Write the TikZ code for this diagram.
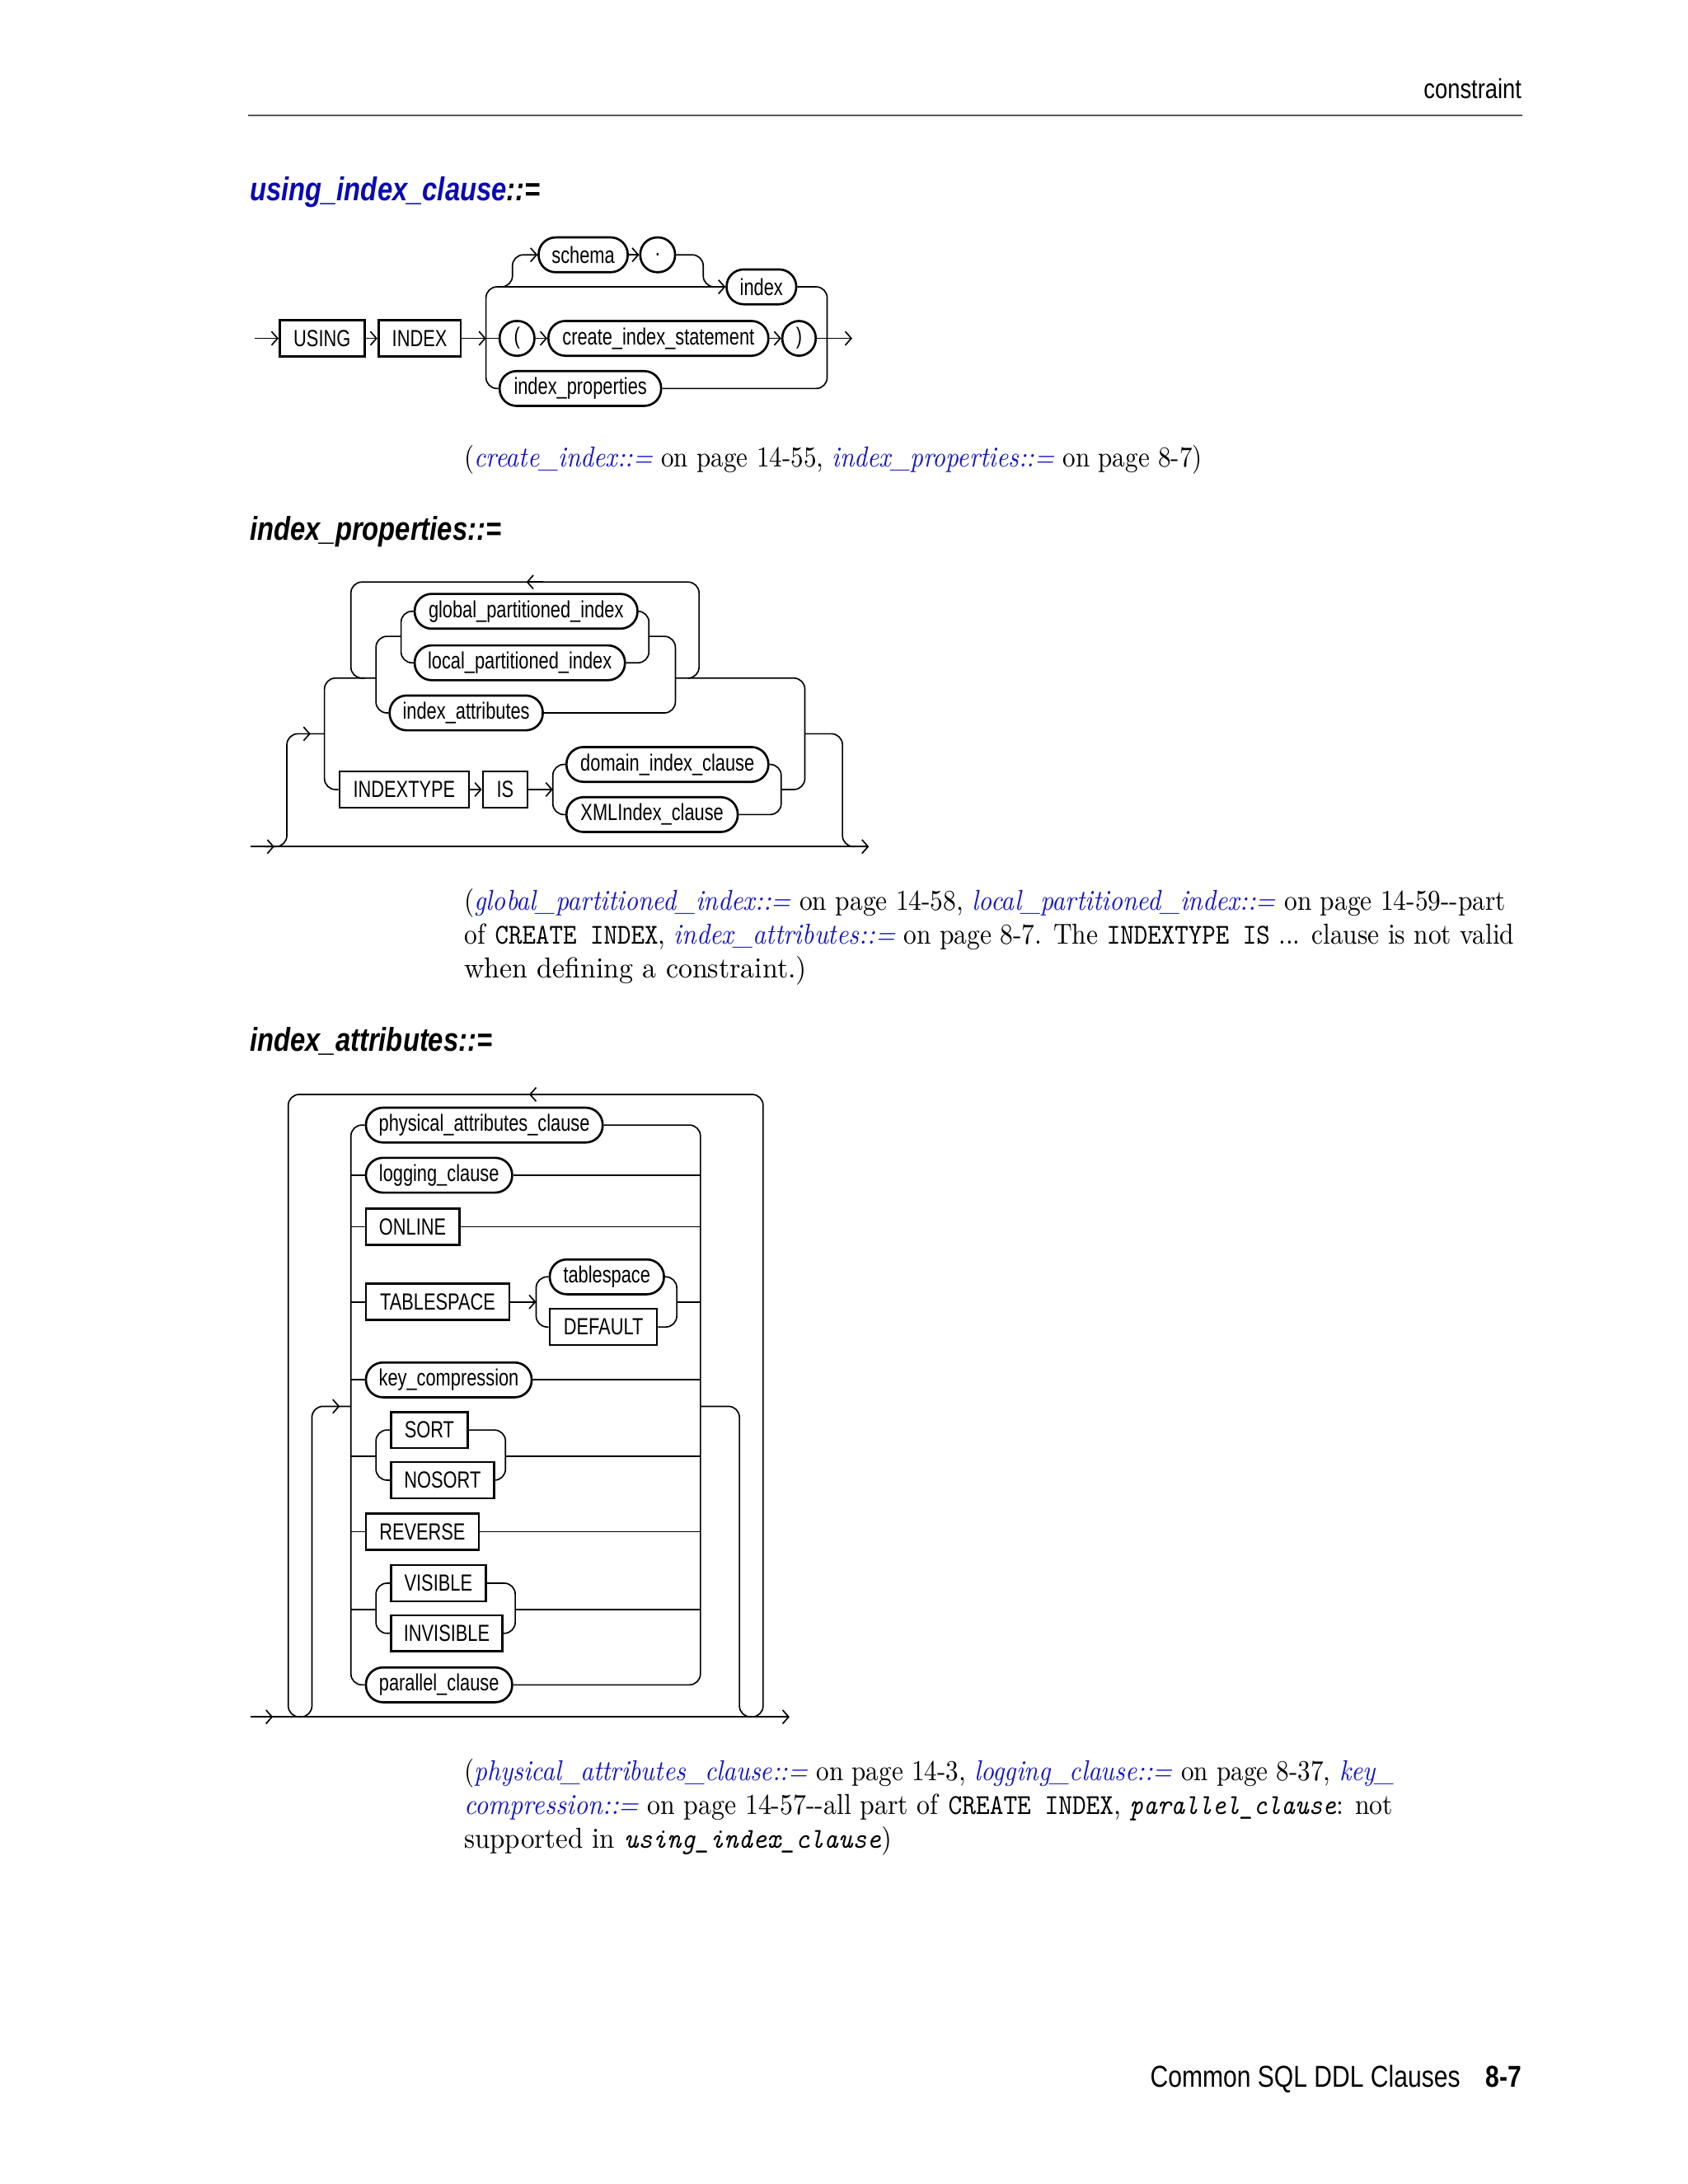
\documentclass[tikz,border=0pt]{standalone}
\usepackage{fontspec}
\usepackage{graphicx}
\usepackage{xcolor}
\usetikzlibrary{arrows.meta, positioning}

\newfontfamily\hv{Liberation Sans}
\newlength\pxu
\setlength\pxu{0.178135mm}
\definecolor{linkblue}{RGB}{20,20,200}
\definecolor{titleblue}{RGB}{10,10,180}
\newcommand\nar[1]{\scalebox{0.77}[1]{#1}}
\newcommand\hnar[1]{\scalebox{0.82}[1]{#1}}
\newcommand\lk[1]{{\color{linkblue}\itshape #1}}
\newcommand\fitline[2]{\resizebox{#1\pxu}{\height}{#2}}

\tikzset{
  rail/.style={line width=0.5pt, rounded corners=4pt},
  kw/.style={draw, line width=0.8pt, minimum height=26\pxu, inner sep=0pt,
    anchor=west, font=\hv\fontsize{8.5}{10}\selectfont},
  ob/.style={kw, rounded corners=6.2pt, minimum height=25\pxu},
  ttl/.style={anchor=base west, inner sep=0pt, font=\hv\bfseries\itshape\fontsize{12}{14}\selectfont},
  body/.style={anchor=base west, inner sep=0pt, font=\fontsize{10.5}{12}\selectfont},
}

\begin{document}
\begin{tikzpicture}[x=\pxu, y=-\pxu, >={Straight Barb[length=2.2pt,width=5pt]}]
  \useasboundingbox (0,0) rectangle (1212,1568.5);
  \fill[white] (0,0) rectangle (1212,1568.5);

  % Page header and footer
  \node[anchor=base east, inner sep=0pt, font=\hv\fontsize{10}{12}\selectfont] (hdr) at (1093,71) {\hnar{constraint}};
  \draw[black!65, line width=0.6pt] (178,83) -- (1093,83);
  \node[anchor=base east, inner sep=0pt, font=\hv\bfseries\fontsize{11}{13}\selectfont] (pgno) at (1093,1499) {\hnar{8-7}};
  \node[anchor=base east, inner sep=0pt, font=\hv\fontsize{11}{13}\selectfont] (foot) at (1049,1499) {\hnar{Common SQL DDL Clauses}};

  % using_index_clause
  \node[ttl] (t1) at (179,144) {\hnar{\textcolor{titleblue}{using\_index\_clause}::=}};
  \node[kw, minimum width=61\pxu] (using) at (200,243) {\nar{USING}};
  \node[kw, minimum width=59\pxu] (kindex) at (271,243) {\nar{INDEX}};
  \node[ob, minimum width=64\pxu] (schema) at (386,183) {\nar{schema}};
  \node[ob, minimum width=25\pxu] (dot) at (459,183) {\nar{.}};
  \node[ob, minimum width=50\pxu] (idx) at (521,206) {\nar{index}};
  \node[ob, minimum width=25\pxu] (lpar) at (358,243) {\nar{(}};
  \node[ob, minimum width=158\pxu] (cis) at (393,243) {\nar{create\_index\_statement}};
  \node[ob, minimum width=24\pxu] (rpar) at (561,243) {\nar{)}};
  \node[ob, minimum width=116\pxu] (iprop) at (358,279) {\nar{index\_properties}};

  \draw[rail,->] (183,243) -- (using.west);
  \draw[rail,->] (using.east) -- (kindex.west);
  \draw[rail,->] (kindex.east) -- (349,243);
  \draw[rail] (349,243) -- (lpar.west);
  \draw[rail,->] (lpar.east) -- (cis.west);
  \draw[rail,->] (cis.east) -- (rpar.west);
  \draw[rail,->] (rpar.east) -- (612,243);
  \draw[rail,<-] (idx.west) -| (349,243) |- (iprop.west);
  \draw[rail] (idx.east) -| (594,243) |- (iprop.east);
  \draw[rail,->] (358,206) -| (368,183) -- (schema.west);
  \draw[rail,->] (schema.east) -- (dot.west);
  \draw[rail] (dot.east) -| (505,206) -- (513,206);

  \node[body] (n1) at (333,335) {\fitline{530}{(\lk{create\_index::=} on page 14-55, \lk{index\_properties::=} on page 8-7)}};

  % index_properties
  \node[ttl] (t2) at (179,388) {\hnar{index\_properties::=}};
  \node[ob, minimum width=160\pxu] (gpi) at (297,439) {\nar{global\_partitioned\_index}};
  \node[ob, minimum width=151\pxu] (lpi) at (297,476) {\nar{local\_partitioned\_index}};
  \node[ob, minimum width=110\pxu] (iattr) at (279,512) {\nar{index\_attributes}};
  \node[kw, minimum width=93\pxu] (itype) at (243,567) {\nar{INDEXTYPE}};
  \node[kw, minimum width=32\pxu] (is) at (346,567) {\nar{IS}};
  \node[ob, minimum width=145\pxu] (dic) at (406,549) {\nar{domain\_index\_clause}};
  \node[ob, minimum width=123\pxu] (xic) at (406,585) {\nar{XMLIndex\_clause}};

  \draw[rail,->] (180,608) -- (624,608);
  \draw[rail,->] (180,608) -- (197,608);
  \draw[rail] (190,608) -| (206,527) -- (233,527);
  \draw[rail,->] (214,527) -- (223,527);
  \draw[rail] (578,527) -| (605,608) -- (614,608);
  \draw[rail] (270,487) -| (233,527) |- (itype.west);
  \draw[rail] (485,487) -| (578,527) |- (561,567);
  \draw[rail] (262,487) -| (252,418) -| (502,487) -- (494,487);
  \draw[rail,->] (390,418) -- (378,418);
  \draw[rail] (gpi.west) -| (288,457) |- (lpi.west);
  \draw[rail] (gpi.east) -| (466,457) |- (lpi.east);
  \draw[rail] (288,457) -| (270,487) |- (iattr.west);
  \draw[rail] (466,457) -| (485,487) |- (iattr.east);
  \draw[rail,->] (itype.east) -- (is.west);
  \draw[rail,->] (is.east) -- (397,567);
  \draw[rail] (dic.west) -| (397,567) |- (xic.west);
  \draw[rail] (dic.east) -| (561,567) |- (xic.east);

  \node[body] (n2a) at (333,654) {\fitline{748}{(\lk{global\_partitioned\_index::=} on page 14-58, \lk{local\_partitioned\_index::=} on page 14-59-{}-part}};
  \node[body] (n2b) at (333,678) {\fitline{754}{of \texttt{CREATE INDEX}, \lk{index\_attributes::=} on page 8-7. The \texttt{INDEXTYPE IS} ... clause is not valid}};
  \node[body] (n2c) at (333,702) {\fitline{246}{when defining a constraint.)}};

  % index_attributes
  \node[ttl] (t3) at (179,755) {\hnar{index\_attributes::=}};
  \coordinate (rr) at (503,1010);
  \node[ob, minimum width=170\pxu] (pac) at (262,808) {\nar{physical\_attributes\_clause}};
  \node[ob, minimum width=105\pxu] (log) at (262,844) {\nar{logging\_clause}};
  \node[kw, minimum width=67\pxu] (online) at (262,881) {\nar{ONLINE}};
  \node[kw, minimum width=103\pxu] (ts) at (262,935) {\nar{TABLESPACE}};
  \node[ob, minimum width=82\pxu] (tsn) at (394,917) {\nar{tablespace}};
  \node[kw, minimum width=77\pxu] (def) at (394,953) {\nar{DEFAULT}};
  \node[ob, minimum width=119\pxu] (kc) at (262,991) {\nar{key\_compression}};
  \node[kw, minimum width=55\pxu] (sort) at (280,1027) {\nar{SORT}};
  \node[kw, minimum width=74\pxu] (nosort) at (280,1063) {\nar{NOSORT}};
  \node[kw, minimum width=81\pxu] (rev) at (262,1100) {\nar{REVERSE}};
  \node[kw, minimum width=68\pxu] (vis) at (280,1137) {\nar{VISIBLE}};
  \node[kw, minimum width=80\pxu] (invis) at (280,1173) {\nar{INVISIBLE}};
  \node[ob, minimum width=105\pxu] (par) at (262,1210) {\nar{parallel\_clause}};

  \draw[rail,->] (180,1233) -- (567,1233);
  \draw[rail,->] (180,1233) -- (196,1233);
  \draw[rail] (539,1233) -| (548,786) -| (207,1233) -- (215,1233);
  \draw[rail,->] (392,786) -- (380,786);
  \draw[rail] (215,1233) -| (224,1010) -- (252,1010);
  \draw[rail,->] (235,1010) -- (244,1010);
  \draw[rail] (rr) -| (531,1233) -- (539,1233);
  \draw[rail] (pac.west) -| (252,1010) |- (par.west);
  \draw[rail] (pac.east) -| (rr) |- (par.east);
  \foreach \n in {log, online, ts, kc, rev} {
    \draw[rail] (\n.west) -- ++(-10,0);
  }
  \foreach \n in {log, online, kc, rev} {
    \draw[rail] (\n.east) -- (\n.east -| rr);
  }
  \draw[rail,->] (ts.east) -- (385,935);
  \draw[rail] (tsn.west) -| (385,935) |- (def.west);
  \draw[rail] (tsn.east) -| (486,935) |- (def.east);
  \draw[rail] (486,935) -- (rr |- ts.east);
  \draw[rail] (252,1046) -- (270,1046);
  \draw[rail] (sort.west) -| (270,1046) |- (nosort.west);
  \draw[rail] (sort.east) -| (363,1046) |- (nosort.east);
  \draw[rail] (363,1046) -- (503,1046);
  \draw[rail] (252,1156) -- (270,1156);
  \draw[rail] (vis.west) -| (270,1156) |- (invis.west);
  \draw[rail] (vis.east) -| (370,1156) |- (invis.east);
  \draw[rail] (370,1156) -- (503,1156);

  \node[body] (n3a) at (333,1279) {\fitline{668}{(\lk{physical\_attributes\_clause::=} on page 14-3, \lk{logging\_clause::=} on page 8-37, \lk{key\_}}};
  \node[body] (n3b) at (333,1303) {\fitline{667}{\lk{compression::=} on page 14-57-{}-all part of \texttt{CREATE INDEX}, \texttt{\itshape parallel\_clause}: not}};
  \node[body] (n3c) at (333,1327) {\fitline{307}{supported in \texttt{\itshape using\_index\_clause})}};
\end{tikzpicture}
\end{document}
